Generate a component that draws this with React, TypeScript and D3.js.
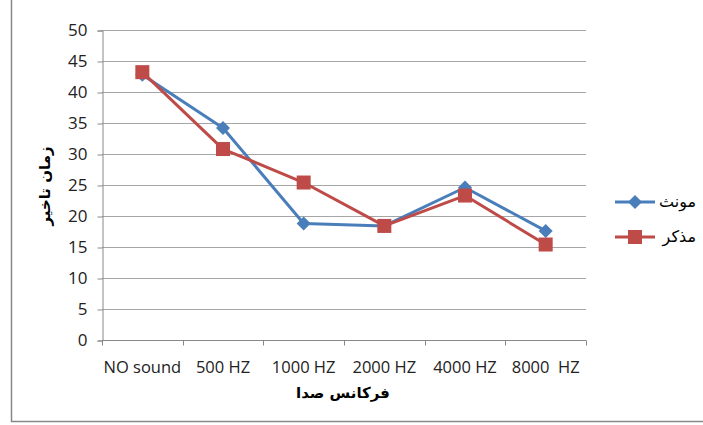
import React, { useEffect, useRef } from "react";
import * as d3 from "d3";

const categories = ["NO sound", "500 HZ", "1000 HZ", "2000 HZ", "4000 HZ", "8000  HZ"];
const female = [42.8, 34.2, 18.8, 18.4, 24.6, 17.6]; // مونث
const male = [43.2, 30.8, 25.4, 18.4, 23.3, 15.4]; // مذکر
const yTicks = [0, 5, 10, 15, 20, 25, 30, 35, 40, 45, 50];

const App = () => {
  const ref = useRef<SVGSVGElement>(null);

  useEffect(() => {
    if (!ref.current) return;
    const svg = d3.select(ref.current);
    svg.selectAll("*").remove();

    const left = 102, right = 586, top = 30, bottom = 340;
    const font = "'Open Sans', 'Liberation Sans', sans-serif";

    // outer frame
    svg.append("path")
      .attr("d", "M11.5,0 V421.5 H703")
      .attr("fill", "none")
      .attr("stroke", "#888")
      .attr("stroke-width", 1.5);

    const x = d3.scaleBand().domain(categories).range([left, right]);
    const y = d3.scaleLinear().domain([0, 50]).range([bottom, top]);

    // ===== Grid =====
    svg.append("g")
      .selectAll("line")
      .data(yTicks.filter(d => d > 0))
      .join("line")
      .attr("x1", left).attr("x2", right)
      .attr("y1", d => Math.round(y(d)) + 0.5)
      .attr("y2", d => Math.round(y(d)) + 0.5)
      .attr("stroke", "#a6a6a6")
      .attr("stroke-width", 1);

    // ===== Axes =====
    const yAxis = svg.append("g")
      .attr("transform", `translate(${left + 0.5},0.5)`)
      .call(d3.axisLeft(y).tickValues(yTicks).tickSize(5).tickPadding(10));
    yAxis.select(".domain").attr("stroke", "#888");
    yAxis.selectAll(".tick line").attr("stroke", "#888");
    yAxis.selectAll("text").style("font-size", "17px").style("font-family", font).attr("fill", "#222");

    const xAxis = svg.append("g").attr("transform", `translate(0,${bottom + 0.5})`);
    xAxis.append("line").attr("x1", left).attr("x2", right).attr("stroke", "#888");
    xAxis.selectAll("line.tk")
      .data(d3.range(categories.length + 1))
      .join("line")
      .attr("class", "tk")
      .attr("x1", i => Math.round(left + i * x.step()) + 0.5)
      .attr("x2", i => Math.round(left + i * x.step()) + 0.5)
      .attr("y1", 0).attr("y2", 5)
      .attr("stroke", "#888");
    xAxis.selectAll("text")
      .data(categories)
      .join("text")
      .attr("x", d => x(d)! + x.bandwidth() / 2)
      .attr("y", 32)
      .attr("text-anchor", "middle")
      .style("font-size", "16.5px")
      .style("font-family", font)
      .style("white-space", "pre")
      .attr("fill", "#222")
      .text(d => d);

    // axis titles
    svg.append("text")
      .attr("transform", "translate(50,186) rotate(-90)")
      .attr("text-anchor", "middle")
      .style("font-size", "15px")
      .style("font-weight", "bold")
      .style("font-family", "'DejaVu Sans', sans-serif")
      .text("زمان تاخیر");
    svg.append("text")
      .attr("x", 343).attr("y", 398)
      .attr("text-anchor", "middle")
      .style("font-size", "15px")
      .style("font-weight", "bold")
      .style("font-family", "'DejaVu Sans', sans-serif")
      .text("فرکانس صدا");

    const line = d3.line<number>()
      .x((_, i) => x(categories[i])! + x.bandwidth() / 2)
      .y(d => y(d));

    const series = [
      { name: "مونث", values: female, color: "#4a7ebb", shape: "diamond" },
      { name: "مذکر", values: male, color: "#be4b48", shape: "square" },
    ];

    const marker = (g: any, shape: string, color: string, cx: number, cy: number) => {
      if (shape === "diamond") {
        g.append("path")
          .attr("d", `M${cx},${cy - 7} L${cx + 7},${cy} L${cx},${cy + 7} L${cx - 7},${cy} Z`)
          .attr("fill", color);
      } else {
        g.append("rect")
          .attr("x", cx - 7).attr("y", cy - 7)
          .attr("width", 14).attr("height", 14)
          .attr("fill", color);
      }
    };

    series.forEach(s => {
      svg.append("path")
        .datum(s.values)
        .attr("fill", "none")
        .attr("stroke", s.color)
        .attr("stroke-width", 3)
        .attr("stroke-linejoin", "round")
        .attr("d", line);
      const g = svg.append("g");
      s.values.forEach((v, i) => marker(g, s.shape, s.color, x(categories[i])! + x.bandwidth() / 2, y(v)));
    });

    // ===== Legend =====
    series.forEach((s, i) => {
      const ly = 202 + i * 35;
      const g = svg.append("g");
      g.append("line")
        .attr("x1", 615).attr("x2", 655)
        .attr("y1", ly).attr("y2", ly)
        .attr("stroke", s.color).attr("stroke-width", 3);
      marker(g, s.shape, s.color, 635, ly);
      g.append("text")
        .attr("x", 696).attr("y", ly + 5)
        .attr("text-anchor", "end")
        .style("font-size", "16px")
        .style("font-family", "'DejaVu Sans', sans-serif")
        .text(s.name);
    });
  }, []);

  return (
    <svg
      ref={ref}
      width={703}
      height={425}
      style={{ position: "absolute", left: 0, top: 0, background: "#fff" }}
    />
  );
};

export default App;
